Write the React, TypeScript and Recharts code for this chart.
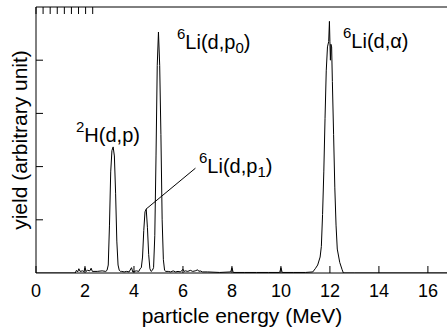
import { LineChart, Line, XAxis, YAxis, ReferenceLine } from "recharts";

// particle energy (MeV), grouped by region of the spectrum
const energy = [
  // low-energy background
  0, 1.6, 1.65, 1.7, 1.75, 1.8, 1.9, 1.95, 2.0, 2.05, 2.1, 2.2, 2.25, 2.3, 2.5, 2.7, 2.85,
  // 2H(d,p)
  2.9, 2.95, 3.0, 3.05, 3.1, 3.15, 3.2, 3.25, 3.3, 3.35, 3.4, 3.45,
  // background
  3.5, 3.6, 3.7, 3.8, 3.9, 3.95, 4.0, 4.1, 4.2, 4.25,
  // 6Li(d,p1) + 6Li(d,p0)
  4.3, 4.35, 4.4, 4.45, 4.5, 4.55, 4.6, 4.65, 4.7, 4.75, 4.8, 4.85, 4.9, 4.95, 5.0, 5.05, 5.1, 5.15, 5.2, 5.25, 5.3, 5.35,
  // background
  5.4, 5.5, 5.6, 5.7, 5.8, 5.9, 6.0, 6.05, 6.1, 6.2, 6.3, 6.4, 6.5, 6.6, 6.65, 6.7, 6.8, 7.0, 7.5, 7.95, 8.0, 8.05, 8.5, 9.0, 9.5, 9.95, 10.0, 10.05, 10.5, 11.0,
  // 6Li(d,alpha)
  11.3, 11.4, 11.5, 11.6, 11.65, 11.7, 11.75, 11.8, 11.85, 11.9, 11.95, 11.98, 12.0, 12.02, 12.04, 12.07, 12.1, 12.15, 12.2, 12.25, 12.3, 12.4, 12.5, 12.55,
  // tail
  13.0, 16.78,
];

// yield (arbitrary unit), same grouping as energy
const yieldAU = [
  0, 0, 0.05, 0.02, 0.08, 0.03, 0.04, 0.02, 0.1, 0.03, 0.05, 0.04, 0.09, 0.03, 0.03, 0.04, 0.03,
  0.05, 0.15, 0.9, 1.9, 2.3, 2.37, 2.2, 1.5, 0.6, 0.15, 0.05, 0.03,
  0.03, 0.02, 0.03, 0.02, 0.1, 0.02, 0.03, 0.04, 0.03, 0.08,
  0.1, 0.3, 0.8, 1.15, 1.2, 0.85, 0.35, 0.08, 0.03, 0.05, 0.1, 0.7, 2.2, 3.9, 4.53, 3.9, 2.6, 1.0, 0.25, 0.05, 0.03, 0.03,
  0.03, 0.02, 0.04, 0.02, 0.03, 0.02, 0.07, 0.03, 0.04, 0.03, 0.05, 0.03, 0.04, 0.06, 0.03, 0.04, 0.02, 0.02, 0.01, 0.02, 0.1, 0.01, 0.01, 0.01, 0.01, 0.01, 0.1, 0.01, 0.01, 0.01,
  0.02, 0.08, 0.15, 0.3, 0.5, 1.1, 1.9, 2.9, 3.8, 4.25, 4.35, 4.73, 4.35, 4.0, 4.3, 4.25, 3.6, 2.6, 1.6, 0.9, 0.45, 0.2, 0.06, 0,
  0, 0,
];

const xTicks = [0, 2, 4, 6, 8, 10, 12, 14, 16];
const yTicks = [1, 2, 3, 4];
const xMax = 16.78;
const yMax = 5;

// leader line from the 6Li(d,p1) peak to its label
const leader = [
  { x: 4.49, y: 1.2 },
  { x: 6.51, y: 1.97 },
];

const data = energy.map((e, i) => ({ e, v: yieldAU[i] }));

const FONT = "'Liberation Sans', Arial, Helvetica, sans-serif";
const TICK = 7;

const BottomTick = ({ x, y, payload }: any) => (
  <g>
    <line x1={x} x2={x} y1={y} y2={y - TICK} stroke="#000" />
    <text x={x} y={y + 24} textAnchor="middle" fontSize={18} fontFamily={FONT} fill="#000">
      {payload.value}
    </text>
  </g>
);
const TopTick = ({ x, y }: any) => <line x1={x} x2={x} y1={y} y2={y + TICK} stroke="#000" />;
const LeftTick = ({ x, y }: any) => <line x1={x} x2={x + TICK} y1={y} y2={y} stroke="#000" />;
const RightTick = ({ x, y }: any) => <line x1={x} x2={x - TICK} y1={y} y2={y} stroke="#000" />;

function Label({ x, y, sup, main, sub }: { x: number; y: number; sup: string; main: string; sub?: string }) {
  return (
    <text x={x} y={y} fontFamily={FONT} fontSize={20} fill="#000">
      <tspan fontSize={15} dy={-10}>{sup}</tspan>
      <tspan dy={10}>{main}</tspan>
      {sub !== undefined && (
        <>
          <tspan fontSize={15} dy={4}>{sub}</tspan>
          <tspan dy={-4}>)</tspan>
        </>
      )}
    </text>
  );
}

export default function App() {
  return (
    <div style={{ position: "absolute", left: 0, top: 0, width: 447, height: 333, background: "#fff" }}>
      <LineChart width={447} height={333} data={data} margin={{ top: 0, right: 0, bottom: 0, left: 0 }}>
        <XAxis
          xAxisId="b"
          dataKey="e"
          type="number"
          domain={[0, xMax]}
          ticks={xTicks}
          allowDataOverflow
          height={60}
          tickSize={0}
          tickMargin={0}
          tickLine={false}
          axisLine={{ stroke: "#000" }}
          tick={<BottomTick />}
          interval={0}
        />
        <XAxis
          xAxisId="t"
          orientation="top"
          type="number"
          domain={[0, xMax]}
          ticks={xTicks}
          allowDataOverflow
          height={7}
          tickSize={0}
          tickMargin={0}
          tickLine={false}
          axisLine={{ stroke: "#000" }}
          tick={<TopTick />}
          interval={0}
        />
        <YAxis
          yAxisId="l"
          type="number"
          domain={[0, yMax]}
          ticks={yTicks}
          allowDataOverflow
          width={36}
          tickSize={0}
          tickMargin={0}
          tickLine={false}
          axisLine={{ stroke: "#000" }}
          tick={<LeftTick />}
          interval={0}
        />
        <YAxis
          yAxisId="r"
          orientation="right"
          type="number"
          domain={[0, yMax]}
          ticks={yTicks}
          allowDataOverflow
          width={0}
          tickSize={0}
          tickMargin={0}
          tickLine={false}
          axisLine={{ stroke: "#000" }}
          tick={<RightTick />}
          interval={0}
        />
        <ReferenceLine xAxisId="b" yAxisId="l" segment={leader} stroke="#000" strokeWidth={1} />
        <Line
          xAxisId="b"
          yAxisId="l"
          type="linear"
          dataKey="v"
          stroke="#000"
          strokeWidth={1}
          dot={false}
          isAnimationActive={false}
        />
      </LineChart>
      <svg width={447} height={333} style={{ position: "absolute", left: 0, top: 0, pointerEvents: "none" }}>
        <Label x={76} y={142} sup="2" main="H(d,p)" />
        <Label x={177} y={49} sup="6" main="Li(d,p" sub="0" />
        <Label x={199} y={173} sup="6" main="Li(d,p" sub="1" />
        <Label x={343} y={48} sup="6" main="Li(d,α)" />
        <text x={242} y={323} textAnchor="middle" fontFamily={FONT} fontSize={21} fill="#000">
          particle energy (MeV)
        </text>
        <text
          transform="rotate(-90)"
          x={-140}
          y={27}
          textAnchor="middle"
          fontFamily={FONT}
          fontSize={21}
          fill="#000"
        >
          yield (arbitrary unit)
        </text>
      </svg>
    </div>
  );
}
